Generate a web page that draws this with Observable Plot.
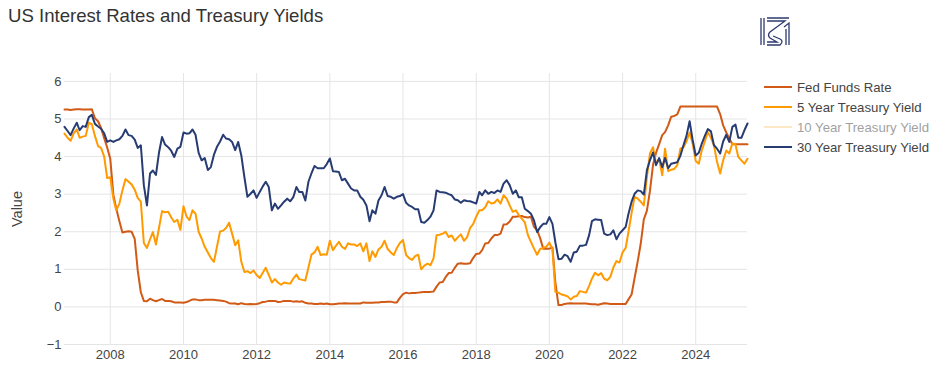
<!DOCTYPE html>
<html>
<head>
<meta charset="utf-8">
<script src="https://cdn.jsdelivr.net/npm/d3@7"></script>
<script src="https://cdn.jsdelivr.net/npm/@observablehq/plot@0.6"></script>
<style>
  body { margin: 0; background: #fff; font-family: "Liberation Sans", Arial, sans-serif; }
  #wrap { position: relative; width: 937px; height: 370px; overflow: hidden; }
  #chart { position: absolute; left: 0; top: 0; }
  #title { position: absolute; left: 8px; top: 5px; font-size: 18.6px; color: #333; white-space: nowrap; }
  #ylabel { position: absolute; left: 17px; top: 209px; transform: translate(-50%, -50%) rotate(-90deg); font-size: 14.5px; color: #444; }
  #legend { position: absolute; left: 764px; top: 77px; font-size: 13.2px; color: #444; }
  .item { height: 20px; display: flex; align-items: center; white-space: nowrap; }
  .item svg { margin-right: 5px; }
  #logo { position: absolute; left: 758px; top: 15px; }
</style>
</head>
<body>
<div id="wrap">
  <div id="chart"></div>
  <div id="title">US Interest Rates and Treasury Yields</div>
  <div id="ylabel">Value</div>
  <svg id="logo" width="36" height="34" viewBox="0 0 36 34">
    <g fill="none" stroke="#2c3a6e" stroke-width="1.3">
      <line x1="3" y1="3" x2="3" y2="30"/>
      <line x1="6" y1="3" x2="6" y2="30"/>
      <path d="M9 3 H31 M9 6 H27 L12 17 Q9 20 12 23 L19 27 H9 M15 21 L22 24 Q26 26 22 30 H9"/>
      <path d="M26 12 L31 8 V30 M28 14 V30"/>
    </g>
  </svg>
  <div id="legend"></div>
</div>
<script>
// Monthly observations, October 2006 through June 2025
const startMonth = "2006-10-01";
const seriesNames = ["Fed Funds Rate", "5 Year Treasury Yield", "10 Year Treasury Yield", "30 Year Treasury Yield"];
const seriesColors = ["#d05a16", "#ff9a00", "#fbd38a", "#283c74"];
const hiddenSeries = ["10 Year Treasury Yield"];

const fedFunds = [
  5.25, 5.25, 5.24,
  5.25, 5.26, 5.26, 5.25, 5.25, 5.25, 5.26, 5.02, 4.94, 4.76, 4.49, 4.24,
  3.94, 2.98, 2.61, 2.28, 1.98, 2.00, 2.01, 2.00, 1.81, 0.97, 0.39, 0.16,
  0.15, 0.22, 0.18, 0.15, 0.18, 0.21, 0.16, 0.16, 0.15, 0.12, 0.12, 0.12,
  0.11, 0.13, 0.16, 0.20, 0.20, 0.18, 0.18, 0.19, 0.19, 0.19, 0.19, 0.18,
  0.17, 0.16, 0.14, 0.10, 0.09, 0.09, 0.07, 0.10, 0.08, 0.07, 0.08, 0.07,
  0.08, 0.10, 0.13, 0.14, 0.16, 0.16, 0.16, 0.13, 0.14, 0.16, 0.16, 0.16,
  0.14, 0.15, 0.14, 0.15, 0.11, 0.09, 0.09, 0.08, 0.08, 0.09, 0.08, 0.09,
  0.07, 0.07, 0.08, 0.09, 0.09, 0.10, 0.09, 0.09, 0.09, 0.09, 0.09, 0.12,
  0.11, 0.11, 0.11, 0.12, 0.12, 0.13, 0.13, 0.14, 0.14, 0.12, 0.12, 0.24,
  0.34, 0.38, 0.36, 0.37, 0.37, 0.38, 0.39, 0.40, 0.40, 0.40, 0.41, 0.54,
  0.65, 0.66, 0.79, 0.90, 0.91, 1.04, 1.15, 1.16, 1.15, 1.15, 1.16, 1.30,
  1.41, 1.42, 1.51, 1.69, 1.70, 1.82, 1.91, 1.91, 1.95, 2.19, 2.20, 2.27,
  2.40, 2.40, 2.41, 2.42, 2.39, 2.38, 2.40, 2.13, 2.04, 1.83, 1.55, 1.55,
  1.55, 1.58, 0.65, 0.05, 0.05, 0.08, 0.09, 0.10, 0.09, 0.09, 0.09, 0.09,
  0.09, 0.08, 0.07, 0.07, 0.06, 0.08, 0.10, 0.09, 0.08, 0.08, 0.08, 0.08,
  0.08, 0.08, 0.20, 0.33, 0.77, 1.21, 1.68, 2.33, 2.56, 3.08, 3.78, 4.10,
  4.33, 4.57, 4.65, 4.83, 5.06, 5.08, 5.12, 5.33, 5.33, 5.33, 5.33, 5.33,
  5.33, 5.33, 5.33, 5.33, 5.33, 5.33, 5.33, 5.33, 5.13, 4.83, 4.64, 4.48,
  4.33, 4.33, 4.33, 4.33, 4.33, 4.33
];

const fiveYear = [
  4.61, 4.50, 4.42,
  4.62, 4.72, 4.50, 4.53, 4.55, 4.90, 4.86, 4.55, 4.28, 4.23, 4.00, 3.43,
  3.45, 2.88, 2.57, 2.75, 3.10, 3.40, 3.33, 3.26, 3.12, 2.90, 2.80, 1.70,
  1.57, 1.80, 1.99, 1.66, 2.10, 2.55, 2.52, 2.53, 2.38, 2.26, 2.32, 2.05,
  2.68, 2.40, 2.31, 2.57, 2.48, 2.00, 1.82, 1.60, 1.45, 1.30, 1.20, 1.60,
  2.01, 2.03, 2.10, 2.24, 1.95, 1.64, 1.77, 1.20, 0.93, 0.95, 0.90, 0.97,
  0.85, 0.77, 0.90, 1.04, 0.85, 0.65, 0.74, 0.65, 0.59, 0.65, 0.63, 0.62,
  0.75, 0.86, 0.74, 0.72, 0.70, 1.05, 1.39, 1.45, 1.60, 1.38, 1.40, 1.39,
  1.76, 1.51, 1.62, 1.73, 1.60, 1.54, 1.69, 1.66, 1.66, 1.62, 1.69, 1.48,
  1.69, 1.22, 1.48, 1.33, 1.53, 1.60, 1.76, 1.54, 1.45, 1.38, 1.57, 1.70,
  1.78, 1.38, 1.30, 1.25, 1.35, 1.39, 1.00, 1.10, 1.15, 1.11, 1.29, 1.91,
  1.92, 1.95, 2.00, 1.86, 1.90, 1.76, 1.85, 1.93, 1.76, 1.85, 2.10, 2.20,
  2.40, 2.57, 2.57, 2.65, 2.81, 2.75, 2.77, 2.86, 2.75, 2.97, 2.88, 2.70,
  2.53, 2.57, 2.45, 2.35, 2.25, 1.91, 1.73, 1.55, 1.39, 1.54, 1.57, 1.60,
  1.71, 1.54, 0.40, 0.38, 0.33, 0.31, 0.28, 0.20, 0.27, 0.29, 0.42, 0.40,
  0.38, 0.56, 0.75, 0.91, 0.84, 0.90, 0.75, 0.71, 0.80, 1.05, 1.22, 1.18,
  1.45, 1.57, 2.00, 2.50, 2.93, 2.88, 2.80, 2.70, 3.46, 4.08, 4.25, 3.81,
  3.94, 3.50, 4.21, 3.61, 3.65, 3.67, 3.77, 4.21, 4.25, 4.40, 4.64, 4.35,
  3.88, 3.81, 4.16, 4.40, 4.65, 4.50, 4.30, 3.86, 3.55, 3.90, 4.16, 4.08,
  4.35, 4.32, 3.99, 3.90, 3.81, 3.94
];

const thirtyYear = [
  4.79, 4.68, 4.57,
  4.75, 4.90, 4.70, 4.81, 4.79, 5.05, 5.11, 4.87, 4.80, 4.74, 4.62, 4.39,
  4.43, 4.39, 4.43, 4.46, 4.55, 4.72, 4.57, 4.55, 4.45, 4.23, 4.30, 3.24,
  2.70, 3.55, 3.63, 3.51, 4.10, 4.52, 4.32, 4.25, 4.15, 3.99, 4.21, 4.26,
  4.64, 4.61, 4.62, 4.72, 4.58, 4.10, 3.90, 3.96, 3.64, 3.72, 4.05, 4.26,
  4.40, 4.58, 4.48, 4.46, 4.39, 4.17, 4.39, 4.03, 3.45, 2.93, 3.01, 3.10,
  2.90, 3.06, 3.20, 3.33, 3.19, 2.57, 2.75, 2.61, 2.70, 2.80, 2.88, 2.81,
  2.92, 3.19, 3.06, 3.06, 2.83, 3.33, 3.55, 3.75, 3.69, 3.69, 3.69, 3.80,
  3.95, 3.61, 3.60, 3.59, 3.37, 3.41, 3.28, 3.15, 3.10, 3.10, 2.93, 2.85,
  2.70, 2.28, 2.57, 2.48, 2.83, 2.97, 3.19, 2.95, 2.93, 2.88, 2.93, 2.95,
  3.00, 2.77, 2.70, 2.66, 2.60, 2.60, 2.26, 2.24, 2.31, 2.40, 2.57, 3.10,
  3.06, 3.05, 3.04, 3.00, 2.97, 2.86, 2.84, 2.77, 2.84, 2.82, 2.81, 2.78,
  2.75, 3.06, 2.97, 3.10, 3.01, 3.06, 3.03, 3.10, 3.06, 3.28, 3.37, 3.24,
  3.01, 3.10, 2.92, 2.92, 2.61, 2.55, 2.48, 2.30, 1.99, 2.12, 2.21, 2.21,
  2.39, 2.21, 1.72, 1.27, 1.28, 1.39, 1.35, 1.20, 1.45, 1.47, 1.63, 1.63,
  1.65, 1.91, 2.28, 2.33, 2.32, 2.31, 1.95, 1.91, 1.93, 2.04, 1.80, 1.95,
  2.04, 2.13, 2.48, 2.80, 3.01, 3.10, 3.08, 2.99, 3.64, 3.90, 4.11, 3.77,
  3.96, 3.72, 3.96, 3.69, 3.81, 3.83, 3.85, 4.02, 4.30, 4.55, 4.94, 4.45,
  4.03, 4.10, 4.34, 4.55, 4.73, 4.67, 4.30, 4.21, 4.08, 4.40, 4.58, 4.39,
  4.79, 4.85, 4.50, 4.50, 4.70, 4.88
];

const xTickYears = [2008, 2010, 2012, 2014, 2016, 2018, 2020, 2022, 2024];
const yTicks = [-1, 0, 1, 2, 3, 4, 5, 6];

// Build the long table
const start = new Date(startMonth + "T00:00:00Z");
const months = fedFunds.map((_, i) => d3.utcMonth.offset(start, i));
const visible = [
  [seriesNames[0], fedFunds],
  [seriesNames[1], fiveYear],
  [seriesNames[3], thirtyYear]
];
const rows = visible.flatMap(([name, vals]) => vals.map((v, i) => ({date: months[i], value: v, series: name})));
const xTicks = xTickYears.map(y => new Date(Date.UTC(y, 0, 1)));

const font = '"Liberation Sans", Arial, sans-serif';
const chart = Plot.plot({
  width: 937,
  height: 370,
  marginLeft: 64,
  marginRight: 190,
  marginTop: 73,
  marginBottom: 26,
  style: {fontFamily: font, fontSize: "13px", color: "#444", background: "transparent", overflow: "visible"},
  x: {type: "utc", domain: [months[0], months[months.length - 1]]},
  y: {domain: [-1, 6.21]},
  color: {domain: seriesNames, range: seriesColors},
  marks: [
    Plot.gridX(xTicks, {stroke: "#e5e5e5", strokeOpacity: 1, strokeWidth: 1}),
    Plot.gridY(yTicks, {stroke: "#e5e5e5", strokeOpacity: 1, strokeWidth: 1}),
    Plot.axisX(xTicks, {tickFormat: d3.utcFormat("%Y"), tickSize: 0, tickPadding: 5, label: null, fill: "#444", fontSize: 13}),
    Plot.axisY(yTicks, {tickFormat: d => d < 0 ? "\u2212" + Math.abs(d) : String(d), tickSize: 0, tickPadding: 3, label: null, fill: "#444", fontSize: 13}),
    Plot.lineY(rows, {x: "date", y: "value", z: "series", stroke: "series", strokeWidth: 2, curve: "linear"})
  ]
});
document.getElementById("chart").appendChild(chart);

// Legend
const legend = document.getElementById("legend");
seriesNames.forEach((name, i) => {
  const hidden = hiddenSeries.includes(name);
  const item = document.createElement("div");
  item.className = "item";
  if (hidden) item.style.opacity = "0.5";
  item.innerHTML = `<svg width="28" height="4"><line x1="0" y1="2" x2="28" y2="2" stroke="${seriesColors[i]}" stroke-width="2"/></svg><span>${name}</span>`;
  legend.appendChild(item);
});
</script>
</body>
</html>
